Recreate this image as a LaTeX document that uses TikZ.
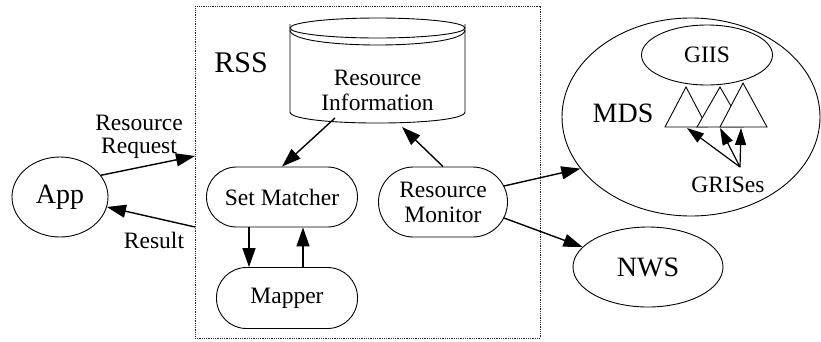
\documentclass[tikz,border=0pt]{standalone}
\usepackage{fontspec}
\setmainfont{Liberation Serif}
\usetikzlibrary{arrows.meta,shapes.geometric}
\begin{document}
\begin{tikzpicture}[x=1pt,y=-1pt,
  big/.style={font=\fontsize{28}{30}\selectfont},
  small/.style={font=\fontsize{23.5}{25}\selectfont},
  shapeline/.style={line width=0.9pt},
  oval/.style={draw,ellipse,shapeline,inner sep=0pt},
  pill/.style={draw,rectangle,shapeline,inner sep=0pt,small},
  arr/.style={line width=1.4pt,-{Triangle[length=19pt,width=13pt]}},
  sarr/.style={line width=1.2pt,-{Triangle[length=17pt,width=11pt]}},
  lbl/.style={inner sep=0pt}]
\useasboundingbox (0,0) rectangle (821,341);
% RSS box
\node[draw,line width=1pt,black!85,dash pattern=on 1pt off 0.8pt,minimum width=345pt,minimum height=332pt,inner sep=0pt] (rss) at (367.5,172) {};
\node[lbl,font=\fontsize{30}{32}\selectfont] (rsslbl) at (241,63) {RSS};
% App
\node[oval,minimum width=96pt,minimum height=80pt,big] (app) at (60,197) {App};
% Resource Information cylinder
\draw[shapeline] (290,24) -- (290,112) .. controls (290,126.7) and (465,126.7) .. (465,112) -- (465,24);
\draw[shapeline] (377.5,28) ellipse [x radius=87.5pt,y radius=10pt];
\draw[shapeline] (290,30) .. controls (290,50) and (465,50) .. (465,30);
\node[lbl,small,align=center] (ri) at (377.5,90) {Resource\\Information};
% Set Matcher, Mapper, Resource Monitor
\node[pill,rounded corners=30pt,minimum width=151pt,minimum height=60pt] (sm) at (282,197) {Set Matcher};
\node[pill,rounded corners=30pt,minimum width=141pt,minimum height=61pt] (mp) at (287,298) {Mapper};
\node[pill,rounded corners=35pt,minimum width=129pt,minimum height=70pt,align=center] (rm) at (443,202) {Resource\\Monitor};
% MDS
\node[oval,minimum width=258pt,minimum height=198pt] (mds) at (691,117) {};
\node[oval,minimum width=131pt,minimum height=60pt,small] (giis) at (707,55) {GIIS};
\node[lbl,big] (mdslbl) at (623,113) {MDS};
\draw[shapeline,fill=white] (686,87) -- (665,127) -- (707,127) -- cycle;
\draw[shapeline,fill=white] (720,87) -- (697,127) -- (743,127) -- cycle;
\draw[shapeline,fill=white] (743,83) -- (720,127) -- (767,127) -- cycle;
\node[lbl,small] (gris) at (728,185) {GRISes};
% NWS
\node[oval,minimum width=150pt,minimum height=80pt,big] (nws) at (648,267) {NWS};
% labels
\node[lbl,font=\fontsize{23.5}{23}\selectfont,align=center] (rqlbl) at (139,137) {Resource\\Request};
\node[lbl,small] (reslbl) at (154,240) {Result};
% coordinates
\coordinate (rqtip) at (195,156);
\coordinate (resstart) at (195,227);
\coordinate (cyl1) at (335,118);
\coordinate (cyl2) at (402,127);
\coordinate (d1) at (249,0);
\coordinate (u1) at (303,0);
\coordinate (rm1) at (504,186);
\coordinate (rm2) at (504,218);
\coordinate (gr) at (740,167);
\coordinate (t1) at (687,128);
\coordinate (t2) at (720,128);
\coordinate (t3) at (741,128);
% arrows
\draw[arr] (app.28) -- (rqtip);
\draw[arr] (resstart) -- (app.-12);
\draw[arr] (cyl1) -- (sm.north);
\draw[arr] (rm.north) -- (cyl2);
\draw[arr] (sm.south -| d1) -- (mp.north -| d1);
\draw[arr] (mp.north -| u1) -- (sm.south -| u1);
\draw[arr] (rm1) -- (mds.205);
\draw[arr] (rm2) -- (nws.163);
\draw[sarr] (gr) -- (t1);
\draw[sarr] (gr) -- (t2);
\draw[sarr] (gr) -- (t3);
\end{tikzpicture}
\end{document}
